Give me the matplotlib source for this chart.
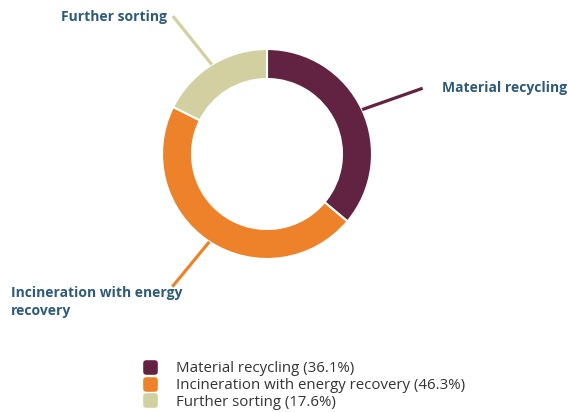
import numpy as np
import matplotlib
matplotlib.use('Agg')
import matplotlib.pyplot as plt
from matplotlib.lines import Line2D
from matplotlib.patches import FancyBboxPatch

plt.rcParams['font.family'] = ['Open Sans', 'DejaVu Sans']

labels = ["Material recycling", "Incineration with energy\nrecovery", "Further sorting"]
legend_names = ["Material recycling", "Incineration with energy recovery", "Further sorting"]
shares = [36.1, 46.3, 17.6]
colors = ["#612341", "#EE822A", "#D2CFA0"]

W, H = 568, 412
fig = plt.figure(figsize=(W / 100, H / 100), dpi=100)
ax = fig.add_axes([0, 0, 1, 1])

cx, cy, R = 267, H - 154, 105
wedges, _ = ax.pie(shares, colors=colors, startangle=90, counterclock=False,
                   center=(cx, cy), radius=R, frame=True,
                   wedgeprops=dict(width=30, edgecolor='white', linewidth=1.5))
ax.set_xlim(0, W)
ax.set_ylim(0, H)
ax.set_aspect('equal')
ax.axis('off')

# leader line end (angle in degrees, distance from centre) and text offset per label
line_end = [(22.9, 169), (-125.5, 163), (124.3, 167)]
text_off = [(19, 0, 'left', 'center'), (-161, 1, 'left', 'top'), (-6, -1, 'right', 'center')]
label_color = "#2D5A78"
for w, lab, c, (ang, L), (dx, dy, ha, va) in zip(wedges, labels, colors, line_end, text_off):
    th = np.deg2rad((w.theta1 + w.theta2) / 2)
    x0, y0 = cx + R * np.cos(th), cy + R * np.sin(th)
    x1, y1 = cx + L * np.cos(np.deg2rad(ang)), cy + L * np.sin(np.deg2rad(ang))
    ax.plot([x0, x1], [y0, y1], color=c, lw=2.3, solid_capstyle='butt')
    ax.text(x1 + dx, y1 + dy, lab, ha=ha, va=va, multialignment='left',
            fontsize=10, fontweight='bold', color=label_color, linespacing=1.35)

# rounded square legend markers
box = FancyBboxPatch((-0.5, -0.5), 1, 1, boxstyle='round,pad=0,rounding_size=0.22')
rsq = box.get_path()
handles = [Line2D([], [], ls='none', marker=rsq, markersize=10.5, color=c, markeredgewidth=0)
           for c in colors]
leg_labels = [f"{n} ({s}%)" for n, s in zip(legend_names, shares)]
ax.legend(handles, leg_labels, loc='upper left', bbox_to_anchor=(142 / W, 1 - 361 / H),
          frameon=False, fontsize=10.8, labelspacing=0.12, handlelength=1.0,
          handletextpad=1.25, borderpad=0, borderaxespad=0, labelcolor='#333333')

fig.savefig('out.png', dpi=100)
